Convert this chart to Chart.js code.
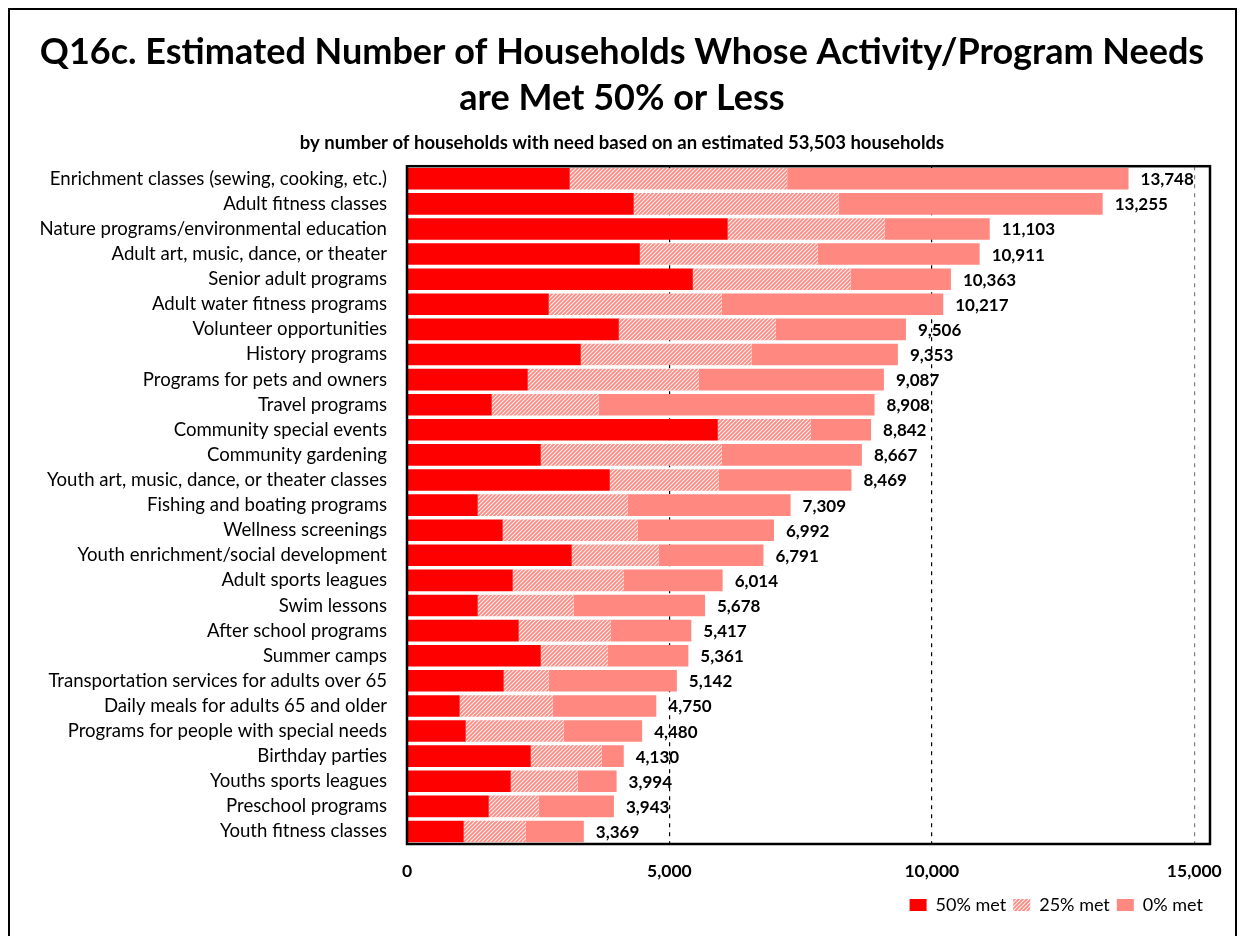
<!DOCTYPE html>
<html>
<head>
<meta charset="utf-8">
<script src="https://cdn.jsdelivr.net/npm/chart.js@4"></script>
<style>
  html, body { margin: 0; padding: 0; background: #fff; }
  #wrap { width: 1243px; height: 936px; }
</style>
</head>
<body>
<div id="wrap"><canvas id="grafico" width="1243" height="936"></canvas></div>
<script>
const categorias = [
  "Enrichment classes (sewing, cooking, etc.)",
  "Adult fitness classes",
  "Nature programs/environmental education",
  "Adult art, music, dance, or theater",
  "Senior adult programs",
  "Adult water fitness programs",
  "Volunteer opportunities",
  "History programs",
  "Programs for pets and owners",
  "Travel programs",
  "Community special events",
  "Community gardening",
  "Youth art, music, dance, or theater classes",
  "Fishing and boating programs",
  "Wellness screenings",
  "Youth enrichment/social development",
  "Adult sports leagues",
  "Swim lessons",
  "After school programs",
  "Summer camps",
  "Transportation services for adults over 65",
  "Daily meals for adults 65 and older",
  "Programs for people with special needs",
  "Birthday parties",
  "Youths sports leagues",
  "Preschool programs",
  "Youth fitness classes"
];
const met50 = [3101, 4320, 6111, 4437, 5446, 2701, 4036, 3311, 2301, 1615, 5922, 2549, 3864, 1348, 1824, 3139, 2015, 1348, 2129, 2549, 1843, 1004, 1119, 2358, 1977, 1558, 1081];
const met25 = [4143, 3906, 2993, 3392, 3006, 3298, 2992, 3254, 3259, 2039, 1773, 3450, 2078, 2859, 2574, 1659, 2116, 1828, 1755, 1278, 858, 1773, 1868, 1354, 1276, 952, 1182];
const met0  = [6504, 5029, 1999, 3082, 1911, 4218, 2478, 2788, 3527, 5254, 1147, 2668, 2527, 3102, 2594, 1993, 1883, 2502, 1533, 1534, 2441, 1973, 1493, 418, 741, 1433, 1106];
const totales = [13748, 13255, 11103, 10911, 10363, 10217, 9506, 9353, 9087, 8908, 8842, 8667, 8469, 7309, 6992, 6791, 6014, 5678, 5417, 5361, 5142, 4750, 4480, 4130, 3994, 3943, 3369];
const ticksX = [0, 5000, 10000, 15000];

const ROJO = "#FF0000";
const SALMON = "#FF8880";
const FUENTE = "Lato, 'Open Sans', sans-serif";

// patron rayado para "25% met"
function crearRayado() {
  const c = document.createElement("canvas");
  c.width = 4; c.height = 4;
  const g = c.getContext("2d");
  g.fillStyle = SALMON;
  g.fillRect(0, 0, 4, 4);
  g.strokeStyle = "rgba(255,255,255,0.9)";
  g.lineWidth = 1.1;
  g.beginPath();
  g.moveTo(0, 4); g.lineTo(4, 0);
  g.moveTo(-1, 1); g.lineTo(1, -1);
  g.moveTo(3, 5); g.lineTo(5, 3);
  g.stroke();
  return g.createPattern(c, "repeat");
}
const rayado = crearRayado();

Chart.defaults.color = "#000";
Chart.defaults.font.family = FUENTE;

const marcoPlugin = {
  id: "marco",
  beforeDraw(chart) {
    const ctx = chart.ctx;
    ctx.save();
    ctx.fillStyle = "#fff";
    ctx.fillRect(0, 0, chart.width, chart.height);
    ctx.strokeStyle = "#000";
    ctx.lineWidth = 2;
    ctx.strokeRect(9, 9, 1227, 960);
    ctx.restore();
  },
  afterDraw(chart) {
    const a = chart.chartArea;
    const ctx = chart.ctx;
    ctx.save();
    ctx.strokeStyle = "#000";
    ctx.lineWidth = 2.5;
    ctx.strokeRect(a.left, a.top, a.right - a.left, a.bottom - a.top);
    ctx.restore();
  }
};

const totalesPlugin = {
  id: "totales",
  afterDatasetsDraw(chart) {
    const meta = chart.getDatasetMeta(2);
    const ctx = chart.ctx;
    ctx.save();
    ctx.font = "bold 17px " + FUENTE;
    ctx.fillStyle = "#000";
    ctx.textAlign = "left";
    ctx.textBaseline = "middle";
    meta.data.forEach((bar, i) => {
      ctx.fillText(totales[i].toLocaleString("en-US"), bar.x + 12, bar.y + 1);
    });
    ctx.restore();
  }
};

new Chart(document.getElementById("grafico").getContext("2d"), {
  type: "bar",
  data: {
    labels: categorias,
    datasets: [
      { label: "50% met", data: met50, backgroundColor: ROJO },
      { label: "25% met", data: met25, backgroundColor: rayado },
      { label: "0% met", data: met0, backgroundColor: SALMON }
    ]
  },
  options: {
    indexAxis: "y",
    responsive: false,
    animation: false,
    barPercentage: 0.86,
    categoryPercentage: 1,
    layout: { padding: { left: 34, right: 33, top: 0, bottom: 12 } },
    scales: {
      x: {
        stacked: true,
        min: 0,
        max: 15300,
        afterBuildTicks: (s) => { s.ticks = ticksX.map(v => ({ value: v })); },
        afterFit: (s) => { s.height = 45; },
        ticks: {
          padding: 17,
          font: { size: 17.5, weight: "bold" },
          callback: (v) => v.toLocaleString("en-US")
        },
        grid: {
          drawTicks: false,
          lineWidth: 1.2,
          color: (c) => c.tick && c.tick.value === 15000 ? "#7f7f7f" : (c.tick && c.tick.value === 0 ? "rgba(0,0,0,0)" : "#000")
        },
        border: { display: false, dash: [4, 5] }
      },
      y: {
        stacked: true,
        afterFit: (s) => { s.width = 373; },
        ticks: {
          autoSkip: false,
          padding: 20,
          font: { size: 18.6 }
        },
        grid: { display: false, drawTicks: false },
        border: { display: false }
      }
    },
    plugins: {
      title: {
        display: true,
        text: ["Q16c. Estimated Number of Households Whose Activity/Program Needs", "are Met 50% or Less"],
        font: { size: 36, weight: "bold", lineHeight: 1.278 },
        padding: { top: 29, bottom: 11 }
      },
      subtitle: {
        display: true,
        text: "by number of households with need based on an estimated 53,503 households",
        font: { size: 18.5, weight: "bold", lineHeight: 1.2 },
        padding: { top: 0, bottom: 12 }
      },
      legend: {
        position: "bottom",
        align: "end",
        labels: {
          boxWidth: 17,
          boxHeight: 12,
          padding: 7,
          font: { size: 18 }
        }
      },
      tooltip: { enabled: false }
    }
  },
  plugins: [marcoPlugin, totalesPlugin]
});
</script>
</body>
</html>
